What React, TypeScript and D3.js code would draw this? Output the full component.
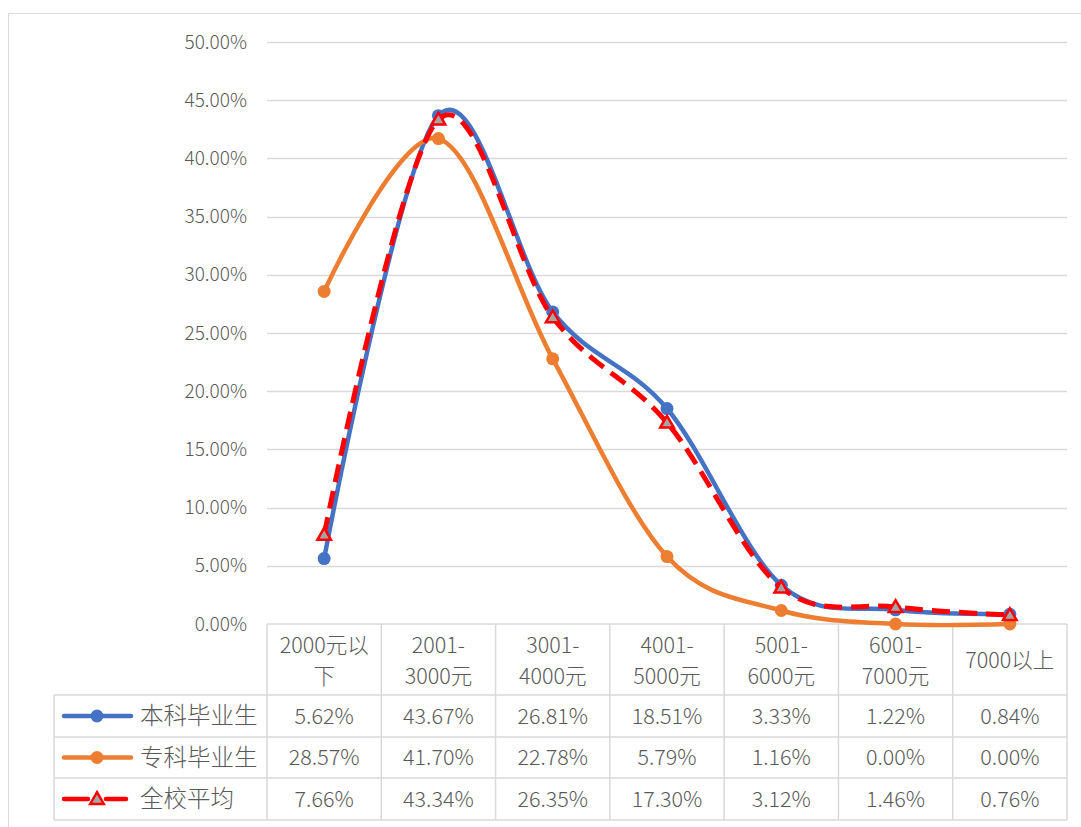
import * as d3 from "d3";
import { useEffect, useRef } from "react";

const categories = ["2000元以下", "2001-3000元", "3001-4000元", "4001-5000元", "5001-6000元", "6001-7000元", "7000以上"];
// header labels as they wrap in the table cells
const headerLines = [["2000元以", "下"], ["2001-", "3000元"], ["3001-", "4000元"], ["4001-", "5000元"], ["5001-", "6000元"], ["6001-", "7000元"], ["7000以上"]];
const seriesNames = ["本科毕业生", "专科毕业生", "全校平均"];
const benke = [5.62, 43.67, 26.81, 18.51, 3.33, 1.22, 0.84];
const zhuanke = [28.57, 41.7, 22.78, 5.79, 1.16, 0.0, 0.0];
const quanxiao = [7.66, 43.34, 26.35, 17.3, 3.12, 1.46, 0.76];
const yTicks = [0, 5, 10, 15, 20, 25, 30, 35, 40, 45, 50];

const W = 1081;
const H = 827;
const textColor = "#595959";
const gridColor = "#D9D9D9";
const font = "'Noto Sans CJK SC', 'Noto Sans', sans-serif";

const App = () => {
  const svgRef = useRef(null);

  useEffect(() => {
    const svg = d3.select(svgRef.current);
    svg.selectAll("*").remove();

    const left = 267;
    const right = 1067;
    const top = 42;
    const bottom = 624;
    const legendLeft = 54;
    const rowEdges = [624, 695, 737, 778, 820];

    const x = d3.scaleBand().domain(categories).range([left, right]);
    const y = d3.scaleLinear().domain([0, 50]).range([bottom, top]);
    const cx = (c) => x(c) + x.bandwidth() / 2;

    // outer frame
    svg.append("rect")
      .attr("x", 8.5).attr("y", 13.5)
      .attr("width", W).attr("height", H)
      .attr("fill", "white").attr("stroke", gridColor);

    // gridlines
    svg.append("g").selectAll("line").data(yTicks.filter((t) => t > 0)).enter().append("line")
      .attr("x1", left).attr("x2", right)
      .attr("y1", (d) => Math.round(y(d)) + 0.5).attr("y2", (d) => Math.round(y(d)) + 0.5)
      .attr("stroke", gridColor).attr("stroke-width", 1.3);

    // y tick labels
    svg.append("g").selectAll("text").data(yTicks).enter().append("text")
      .attr("x", 247).attr("y", (d) => y(d))
      .attr("dy", "0.35em")
      .attr("text-anchor", "end")
      .attr("font-family", font).attr("font-size", 19).attr("font-weight", 300)
      .attr("fill", textColor)
      .text((d) => d.toFixed(2) + "%");

    // data table grid
    const table = svg.append("g").attr("stroke", gridColor).attr("stroke-width", 1.5);
    table.append("line").attr("x1", left).attr("x2", right).attr("y1", rowEdges[0]).attr("y2", rowEdges[0]);
    rowEdges.slice(1).forEach((ry) => {
      table.append("line").attr("x1", legendLeft).attr("x2", right).attr("y1", ry).attr("y2", ry);
    });
    table.append("line").attr("x1", legendLeft).attr("x2", legendLeft).attr("y1", rowEdges[1]).attr("y2", rowEdges[4]);
    categories.forEach((c) => {
      table.append("line").attr("x1", x(c)).attr("x2", x(c)).attr("y1", rowEdges[0]).attr("y2", rowEdges[4]);
    });
    table.append("line").attr("x1", right).attr("x2", right).attr("y1", rowEdges[0]).attr("y2", rowEdges[4]);

    // header labels
    categories.forEach((c, i) => {
      const lines = headerLines[i];
      const t = svg.append("text")
        .attr("text-anchor", "middle")
        .attr("font-family", font).attr("font-size", 21.5).attr("font-weight", 300)
        .attr("fill", textColor);
      lines.forEach((ln, j) => {
        const yy = lines.length === 1 ? 660 : 645 + j * 31;
        t.append("tspan").attr("x", cx(c)).attr("y", yy).attr("dy", "0.35em").text(ln);
      });
    });

    const allSeries = [benke, zhuanke, quanxiao];
    const colors = ["#4472C4", "#ED7D31", "#FF0000"];

    // values in table
    allSeries.forEach((vals, si) => {
      const rowMid = (rowEdges[si + 1] + rowEdges[si + 2]) / 2;
      svg.append("g").selectAll("text").data(vals).enter().append("text")
        .attr("x", (d, i) => cx(categories[i]))
        .attr("y", rowMid).attr("dy", "0.35em")
        .attr("text-anchor", "middle")
        .attr("font-family", font).attr("font-size", 21.5).attr("font-weight", 300)
        .attr("fill", textColor)
        .text((d) => d.toFixed(2) + "%");

      // legend key
      const g = svg.append("g");
      if (si < 2) {
        g.append("line").attr("x1", 64).attr("x2", 131).attr("y1", rowMid).attr("y2", rowMid)
          .attr("stroke", colors[si]).attr("stroke-width", 4.5).attr("stroke-linecap", "round");
        g.append("circle").attr("cx", 97).attr("cy", rowMid).attr("r", 6.5).attr("fill", colors[si]);
      } else {
        g.append("line").attr("x1", 64).attr("x2", 88).attr("y1", rowMid).attr("y2", rowMid)
          .attr("stroke", colors[si]).attr("stroke-width", 4.5).attr("stroke-linecap", "round");
        g.append("line").attr("x1", 106).attr("x2", 126).attr("y1", rowMid).attr("y2", rowMid)
          .attr("stroke", colors[si]).attr("stroke-width", 4.5).attr("stroke-linecap", "round");
        g.append("path")
          .attr("d", d3.symbol(d3.symbolTriangle, 80)())
          .attr("transform", `translate(97,${rowMid + 1})`)
          .attr("fill", "#A5A5A5").attr("stroke", colors[si]).attr("stroke-width", 2.5);
      }
      g.append("text").attr("x", 140).attr("y", rowMid).attr("dy", "0.35em")
        .attr("font-family", font).attr("font-size", 23.5).attr("font-weight", 300)
        .attr("fill", textColor)
        .text(seriesNames[si]);
    });

    // lines
    const line = d3.line()
      .x((d, i) => cx(categories[i]))
      .y((d) => y(d))
      .curve(d3.curveCardinal.tension(0));

    allSeries.forEach((vals, si) => {
      const g = svg.append("g");
      g.append("path")
        .attr("d", line(vals))
        .attr("fill", "none")
        .attr("stroke", colors[si])
        .attr("stroke-width", si === 2 ? 5 : 4.5)
        .attr("stroke-dasharray", si === 2 ? "18 9" : null)
        .attr("stroke-linecap", si === 2 ? "butt" : "round");

      if (si < 2) {
        g.selectAll("circle").data(vals).enter().append("circle")
          .attr("cx", (d, i) => cx(categories[i]))
          .attr("cy", (d) => y(d))
          .attr("r", 6.5)
          .attr("fill", colors[si]);
      } else {
        g.selectAll("path.mk").data(vals).enter().append("path")
          .attr("class", "mk")
          .attr("d", d3.symbol(d3.symbolTriangle, 80)())
          .attr("transform", (d, i) => `translate(${cx(categories[i])},${y(d) + 1})`)
          .attr("fill", "#A5A5A5")
          .attr("stroke", colors[si])
          .attr("stroke-width", 2.5);
      }
    });
  }, []);

  return (
    <svg
      ref={svgRef}
      width={W}
      height={H}
      style={{ position: "absolute", left: 0, top: 0, background: "white" }}
    ></svg>
  );
};

export default App;
